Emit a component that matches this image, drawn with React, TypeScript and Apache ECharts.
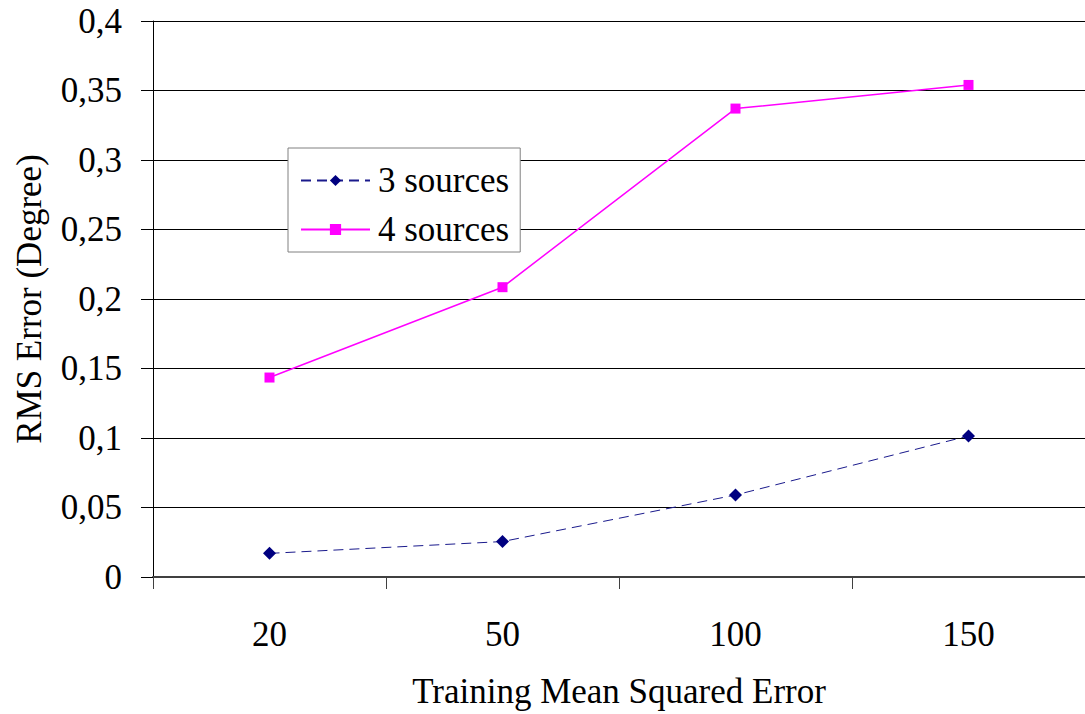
import React, { useEffect, useRef } from "react";
import * as echarts from "echarts";

const categories = ["20", "50", "100", "150"];
const threeSources = [0.017, 0.0255, 0.059, 0.1015];
const fourSources = [0.1435, 0.2085, 0.337, 0.354];
const seriesNames = ["3 sources", "4 sources"];
const xTitle = "Training Mean Squared Error";
const yTitle = "RMS Error (Degree)";

const FONT = "Liberation Serif";

export default function App() {
  const ref = useRef<HTMLDivElement>(null);

  useEffect(() => {
    if (!ref.current) return;
    const chart = echarts.init(ref.current, null, { renderer: "svg" });
    chart.setOption({
      animation: false,
      backgroundColor: "#ffffff",
      textStyle: { fontFamily: FONT, color: "#000" },
      grid: { left: 153, right: 0, top: 21, bottom: 136, containLabel: false },
      legend: {
        orient: "vertical",
        left: 288,
        top: 148,
        padding: [15, 11, 5, 12],
        itemGap: 14,
        itemWidth: 69,
        itemHeight: 14,
        backgroundColor: "#ffffff",
        borderColor: "#808080",
        borderWidth: 1,
        textStyle: {
          fontFamily: FONT,
          fontSize: 35,
          color: "#000",
          rich: {
            t: { fontFamily: FONT, fontSize: 35, color: "#000", padding: [0, 0, 0, 3] },
          },
        },
        formatter: (name: string) => "{t|" + name + "}",
        data: seriesNames,
      },
      xAxis: {
        type: "category",
        data: categories,
        boundaryGap: true,
        axisLine: { show: true, lineStyle: { color: "#404040", width: 2 } },
        axisTick: { show: true, length: 12, alignWithLabel: false, lineStyle: { color: "#404040", width: 1 } },
        axisLabel: { fontFamily: FONT, fontSize: 35, color: "#000", margin: 40 },
        splitLine: { show: false },
        name: xTitle,
        nameLocation: "middle",
        nameGap: 97,
        nameTextStyle: { fontFamily: FONT, fontSize: 35, color: "#000" },
      },
      yAxis: {
        type: "value",
        min: 0,
        max: 0.4,
        interval: 0.05,
        axisLine: { show: true, lineStyle: { color: "#000", width: 1 } },
        axisTick: { show: true, length: 12, lineStyle: { color: "#000", width: 1 } },
        axisLabel: {
          fontFamily: FONT,
          fontSize: 35,
          color: "#000",
          margin: 31,
          formatter: (v: number) => String(Number(v.toFixed(2))).replace(".", ","),
        },
        splitLine: { show: true, lineStyle: { color: "#000", width: 1 } },
        name: yTitle,
        nameLocation: "middle",
        nameGap: 106,
        nameRotate: 90,
        nameTextStyle: { fontFamily: FONT, fontSize: 35, color: "#000" },
      },
      series: [
        {
          name: seriesNames[0],
          type: "line",
          data: threeSources,
          symbol: "diamond",
          symbolSize: 13,
          itemStyle: { color: "#000080" },
          lineStyle: { color: "#1a1a8c", width: 1, type: [10, 6] },
          z: 3,
        },
        {
          name: seriesNames[1],
          type: "line",
          data: fourSources,
          symbol: "rect",
          symbolSize: 10,
          itemStyle: { color: "#ff00ff" },
          lineStyle: { color: "#ff00ff", width: 1.5, type: "solid" },
          z: 3,
        },
      ],
    });
    return () => chart.dispose();
  }, []);

  return (
    <div
      ref={ref}
      style={{ position: "fixed", left: 0, top: 0, width: 1085, height: 714, background: "#fff" }}
    />
  );
}
